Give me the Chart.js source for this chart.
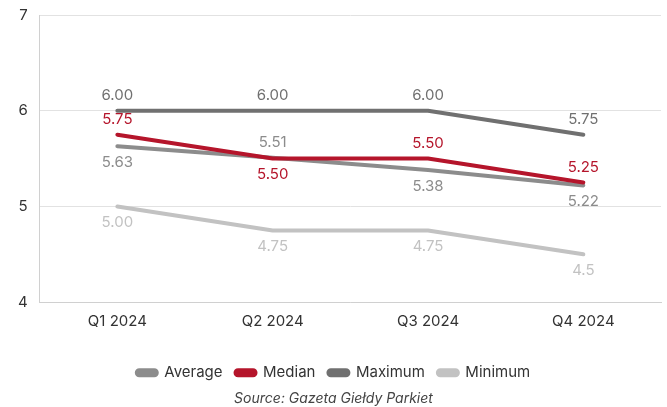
<!DOCTYPE html>
<html>
<head>
<meta charset="utf-8">
<script src="https://cdn.jsdelivr.net/npm/chart.js@4"></script>
<style>
  html, body { margin: 0; padding: 0; background: #fff; }
  #wrap { width: 667px; height: 407px; }
</style>
</head>
<body>
<div id="wrap"><canvas id="chart"></canvas></div>
<script>
const quarters = ['Q1 2024', 'Q2 2024', 'Q3 2024', 'Q4 2024'];
const average = [5.63, 5.51, 5.38, 5.22];
const median = [5.75, 5.50, 5.50, 5.25];
const maximum = [6.00, 6.00, 6.00, 5.75];
const minimum = [5.00, 4.75, 4.75, 4.50];
const labelText = {
  Average: ['5.63', '5.51', '5.38', '5.22'],
  Median: ['5.75', '5.50', '5.50', '5.25'],
  Maximum: ['6.00', '6.00', '6.00', '5.75'],
  Minimum: ['5.00', '4.75', '4.75', '4.5']
};

// where each value label sits relative to its point
const labelSide = {
  Average: ['below', 'above', 'below', 'below'],
  Median: ['above', 'below', 'above', 'above'],
  Maximum: ['above', 'above', 'above', 'above'],
  Minimum: ['below', 'below', 'below', 'below']
};
const labelColor = {
  Average: '#8c8c8c',
  Median: '#b5152b',
  Maximum: '#707070',
  Minimum: '#c2c2c2'
};

const FONT = 'Inter';

const valueLabels = {
  id: 'valueLabels',
  afterDatasetsDraw(chart) {
    const ctx = chart.ctx;
    ctx.save();
    ctx.font = '15px ' + FONT;
    ctx.textAlign = 'center';
    ctx.textBaseline = 'middle';
    chart.data.datasets.forEach((ds, di) => {
      const meta = chart.getDatasetMeta(di);
      meta.data.forEach((pt, i) => {
        const side = labelSide[ds.label][i];
        const y = side === 'above' ? pt.y - 15 : pt.y + 16;
        ctx.fillStyle = labelColor[ds.label];
        ctx.fillText(labelText[ds.label][i], pt.x, y);
      });
    });
    ctx.restore();
  }
};

function line(label, data, color, order) {
  return {
    label: label,
    data: data,
    borderColor: color,
    backgroundColor: color,
    borderWidth: 4,
    borderCapStyle: 'round',
    borderJoinStyle: 'round',
    pointRadius: 0,
    tension: 0,
    order: order
  };
}

new Chart(document.getElementById('chart'), {
  type: 'line',
  data: {
    labels: quarters,
    datasets: [
      line('Average', average, '#8c8c8c', 2),
      line('Median', median, '#b5152b', 0),
      line('Maximum', maximum, '#707070', 1),
      line('Minimum', minimum, '#c2c2c2', 3)
    ]
  },
  options: {
    responsive: true,
    maintainAspectRatio: false,
    animation: false,
    layout: { padding: { top: 0, right: 6, left: 6, bottom: 0 } },
    plugins: {
      legend: {
        position: 'bottom',
        labels: {
          boxWidth: 20,
          boxHeight: 5,
          useBorderRadius: true,
          borderRadius: 2.5,
          padding: 13,
          color: '#333',
          font: { family: FONT, size: 15 },
          sort: (a, b) => a.datasetIndex - b.datasetIndex
        }
      },
      subtitle: {
        display: true,
        position: 'bottom',
        text: 'Source: Gazeta Giełdy Parkiet',
        color: '#444',
        font: { family: FONT, size: 14, style: 'italic' },
        padding: { top: 0, bottom: 0 }
      },
      tooltip: { enabled: false }
    },
    scales: {
      x: {
        offset: true,
        grid: { display: false, drawTicks: false },
        border: { color: '#d0d0d0' },
        ticks: { color: '#333', font: { family: FONT, size: 15 }, padding: 10 },
        afterFit: (scale) => { scale.height += 12; }
      },
      y: {
        min: 4,
        max: 7,
        grid: { color: '#e2e2e2', drawTicks: false },
        border: { color: '#d0d0d0' },
        ticks: { stepSize: 1, color: '#333', font: { family: FONT, size: 15 }, padding: 12 },
        afterFit: (scale) => { scale.paddingTop = 15; }
      }
    }
  },
  plugins: [valueLabels]
});
</script>
</body>
</html>
